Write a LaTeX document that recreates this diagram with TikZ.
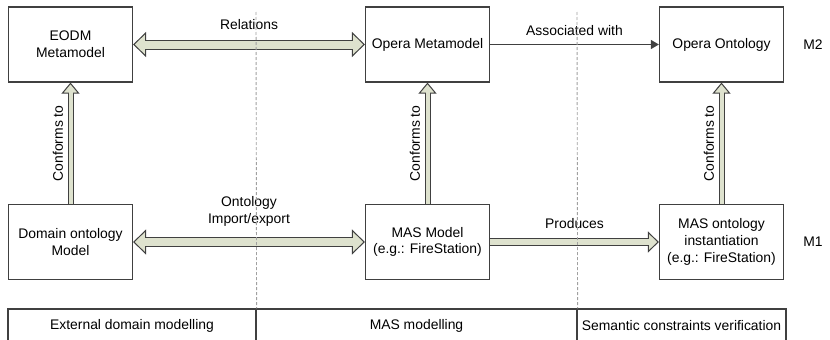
\documentclass[tikz,border=0pt]{standalone}
\usepackage{fontspec}
\setmainfont{Liberation Sans}
\usetikzlibrary{arrows.meta}
\definecolor{edge}{RGB}{64,64,64}
\definecolor{sage}{RGB}{222,226,206}
\definecolor{guide}{RGB}{160,160,160}
\newcommand{\diagfont}{\fontsize{13.9}{16.8}\selectfont}
\tikzset{
  box/.style={draw=edge, line width=1.2pt, minimum width=124pt, minimum height=75pt, align=center, inner sep=2pt},
  cell/.style={draw=edge, line width=1.2pt, minimum height=34pt, inner sep=0pt},
  relarrow/.style={draw=edge, line width=10pt,
    {Triangle[length=13pt,width=25pt,line width=1pt,fill=sage]}-{Triangle[length=13pt,width=25pt,line width=1pt,fill=sage]},
    postaction={draw=sage, line width=8pt, -, shorten <=11pt, shorten >=11pt}},
  prodarrow/.style={draw=edge, line width=8pt,
    -{Triangle[length=11pt,width=21pt,line width=1pt,fill=sage]},
    postaction={draw=sage, line width=6pt, -, shorten >=9pt}},
  confarrow/.style={draw=edge, line width=6pt,
    -{Triangle[length=11pt,width=18pt,line width=1pt,fill=sage]},
    postaction={draw=sage, line width=4pt, -, shorten >=9pt}},
  assoc/.style={draw=edge, line width=1.2pt, -{Triangle[length=8pt,width=9pt]}},
  sep/.style={draw=guide, line width=0.9pt, dash pattern=on 3pt off 2pt},
}
\begin{document}
\begin{tikzpicture}[x=1pt, y=-1pt, font=\diagfont]
\useasboundingbox (0,0) rectangle (830,340);
% M2 level
\node[box] (eodm) at (70.5,44.5) {EODM\\Metamodel};
\node[box] (opmeta) at (427.5,44.5) {Opera Metamodel};
\node[box] (opont) at (721.5,44.5) {Opera Ontology};
\node (m2) at (813,44.5) {M2};
% M1 level
\node[box] (domont) at (70.5,242) {Domain ontology\\Model};
\node[box] (masmodel) at (427.5,242) {MAS Model\\(e.g.: FireStation)};
\node[box] (masinst) at (721.5,242) {MAS ontology\\instantiation\\(e.g.: FireStation)};
\node (m1) at (813,242) {M1};
% horizontal links
\draw[relarrow] (eodm) -- (opmeta) node[midway, above=7pt] {Relations};
\draw[assoc] (opmeta) -- (opont) node[midway, above=5pt] {Associated with};
\draw[relarrow] (domont) -- (masmodel) node[midway, above=7pt, align=center] {Ontology\\Import/export};
\draw[prodarrow] (masmodel) -- (masinst) node[midway, above=6pt] {Produces};
% conformance
\draw[confarrow] (domont) -- (eodm) node[midway, rotate=90, anchor=south, inner sep=4.5pt] {Conforms to};
\draw[confarrow] (masmodel) -- (opmeta) node[midway, rotate=90, anchor=south, inner sep=4.5pt] {Conforms to};
\draw[confarrow] (masinst) -- (opont) node[midway, rotate=90, anchor=south, inner sep=4.5pt] {Conforms to};
% activity bar
\node[cell, minimum width=248pt] (extdom) at (132,326) {External domain modelling};
\node[cell, minimum width=321pt] (masmod) at (416.5,326) {MAS modelling};
\node[cell, minimum width=209pt] (semver) at (681.5,326) {Semantic constraints verification};
% separators
\draw[sep] (256,12) -- (extdom.north east);
\draw[sep] (577,12) -- (masmod.north east);
\end{tikzpicture}
\end{document}
